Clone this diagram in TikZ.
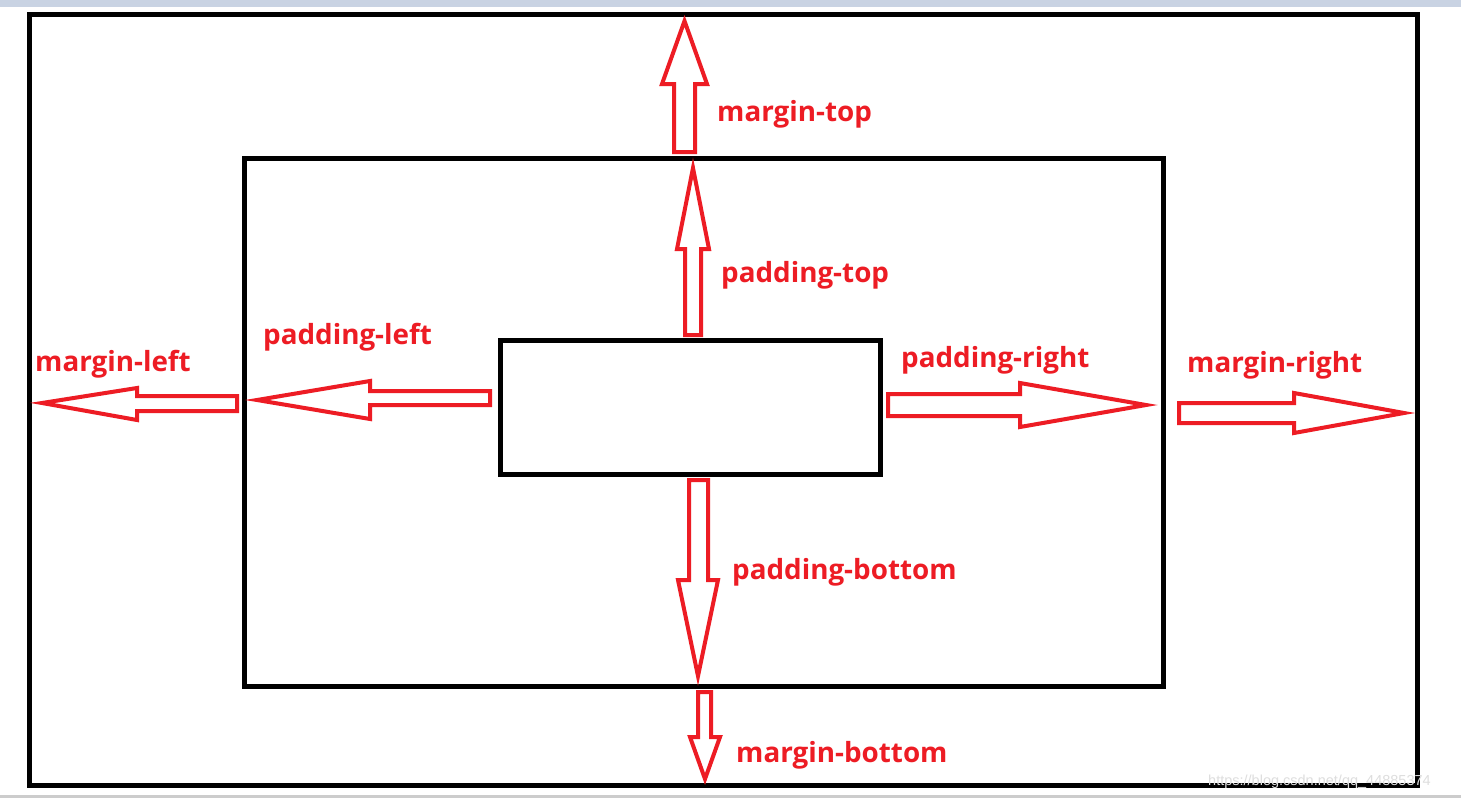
\documentclass[tikz,border=0pt]{standalone}
\usepackage{fontspec}
\setmainfont{Open Sans}
\newfontfamily\wmfont{Liberation Sans}
\definecolor{paintred}{HTML}{ED1C24}
\definecolor{topbar}{HTML}{C9D3E3}
\definecolor{botbar}{HTML}{CCCCCC}
\begin{document}
\begin{tikzpicture}[x=1pt,y=-1pt,
  boxst/.style={draw=black,line width=5pt,inner sep=0pt,outer sep=0pt,fill=white},
  blockarr/.style={draw=paintred,line width=4pt,fill=white,line join=miter,miter limit=20},
  lbl/.style={anchor=base west,inner sep=0pt,text=paintred,font=\fontsize{27.8}{30}\selectfont\bfseries}
]
\useasboundingbox (0,0) rectangle (1461,798);
\fill[white] (0,0) rectangle (1461,798);
\fill[topbar] (0,0) rectangle (1461,6.7);
\fill[botbar] (0,795) rectangle (1461,798);

% boxes
\node[boxst,minimum width=1388pt,minimum height=770.5pt] (outer) at (723.5,399.75) {};
\node[boxst,minimum width=919pt,minimum height=528pt] (inner) at (704,422.5) {};
\node[boxst,minimum width=380pt,minimum height=133.5pt] (content) at (690,407.25) {};

% block arrows
% margin-top
\draw[blockarr] (674,152) -- (674,84) -- (662,84) -- (684.5,21) -- (707,84) -- (695,84) -- (695,152) -- cycle;
% padding-top
\draw[blockarr] (685,335) -- (685,249) -- (677,249) -- (693,168) -- (709,249) -- (701,249) -- (701,335) -- cycle;
% padding-bottom
\draw[blockarr] (689,480) -- (689,580) -- (678,580) -- (698,676) -- (718,580) -- (708,580) -- (708,480) -- cycle;
% margin-bottom
\draw[blockarr] (698,692) -- (698,737) -- (690,737) -- (705,779) -- (720,737) -- (711,737) -- (711,692) -- cycle;
% margin-left
\draw[blockarr] (237,396) -- (137,396) -- (137,388) -- (42,403) -- (137,420) -- (137,411) -- (237,411) -- cycle;
% padding-left
\draw[blockarr] (490,391) -- (370,391) -- (370,381) -- (257,400) -- (370,419) -- (370,405) -- (490,405) -- cycle;
% padding-right
\draw[blockarr] (888,394) -- (1020,394) -- (1020,383) -- (1146,405) -- (1020,427) -- (1020,416) -- (888,416) -- cycle;
% margin-right
\draw[blockarr] (1179,403) -- (1294,403) -- (1294,393) -- (1404,413) -- (1294,433) -- (1294,423) -- (1179,423) -- cycle;

% labels
\node[lbl] (lmt) at (717,121) {margin-top};
\node[lbl] (lpt) at (721,282) {padding-top};
\node[lbl] (lpl) at (263,344) {padding-left};
\node[lbl] (lml) at (35,371) {margin-left};
\node[lbl] (lpr) at (901,367) {padding-right};
\node[lbl] (lmr) at (1187,372) {margin-right};
\node[lbl] (lpb) at (732,579) {padding-bottom};
\node[lbl] (lmb) at (736,762) {margin-bottom};

% watermark
\node[anchor=base west,inner sep=0pt,text=black!13,font=\wmfont\fontsize{14.5}{17}\selectfont] (wm) at (1208,785) {https://blog.csdn.net/qq\_44885374};
\end{tikzpicture}
\end{document}
